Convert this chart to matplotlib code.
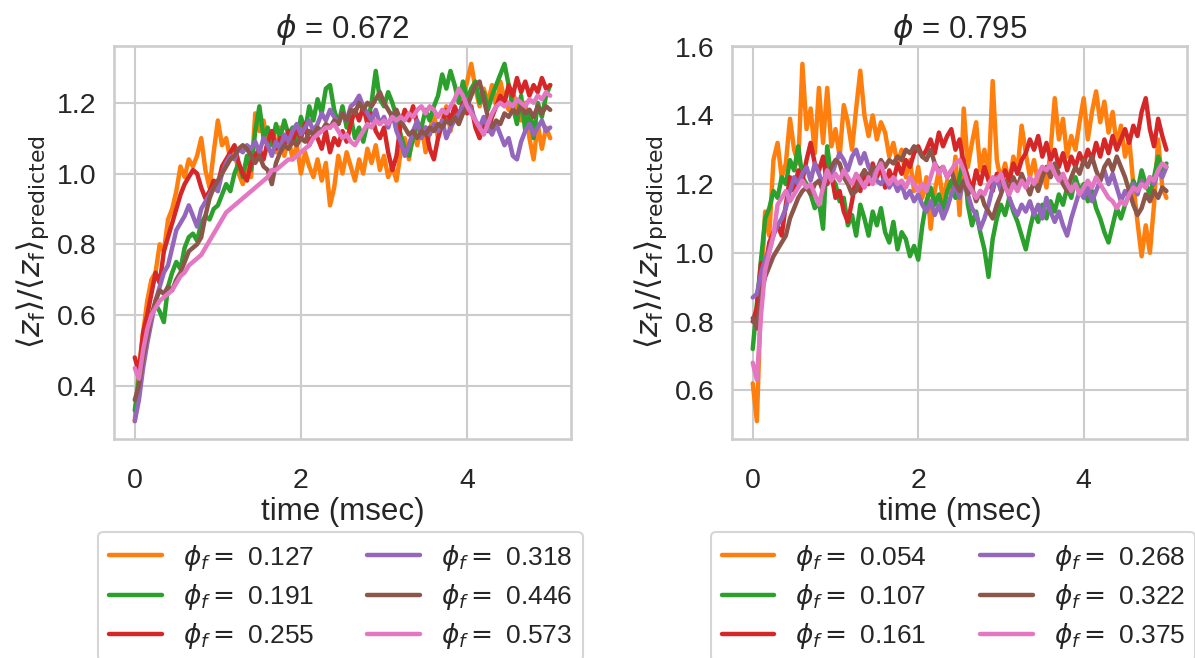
import numpy as np
import matplotlib
matplotlib.use('Agg')
import matplotlib.pyplot as plt
import seaborn as sns

# time axis, msec (sampled every 0.05 msec)
time = np.linspace(0, 5, 101)

# ---- phi = 0.672 ----
phi_left = 0.672
phif_left = [0.127, 0.191, 0.255, 0.318, 0.446, 0.573]

left_127 = [0.30, 0.45, 0.55, 0.64, 0.70, 0.72, 0.80, 0.78, 0.87, 0.90,
            0.95, 1.02, 0.99, 1.04, 1.02, 1.05, 1.10, 1.01, 0.96, 1.06,
            1.15, 1.08, 1.10, 1.04, 1.07, 1.00, 0.97, 1.02, 0.99, 1.17,
            1.12, 1.15, 1.08, 1.12, 1.06, 1.13, 1.05, 1.10, 1.04, 1.08,
            1.00, 1.06, 1.02, 0.99, 1.04, 0.98, 1.03, 0.91, 0.96, 1.05,
            1.00, 1.06, 1.02, 0.98, 1.04, 1.00, 1.07, 1.03, 1.08, 1.01,
            1.05, 0.99, 1.02, 0.98, 1.06, 1.10, 1.04, 1.12, 1.08, 1.14,
            1.06, 1.12, 1.17, 1.10, 1.15, 1.19, 1.12, 1.18, 1.14, 1.21,
            1.26, 1.31, 1.24, 1.19, 1.24, 1.20, 1.25, 1.19, 1.26, 1.21,
            1.18, 1.23, 1.19, 1.15, 1.20, 1.10, 1.04, 1.14, 1.07, 1.13,
            1.10]
left_191 = [0.33, 0.42, 0.50, 0.55, 0.60, 0.63, 0.61, 0.58, 0.68, 0.72,
            0.75, 0.73, 0.79, 0.82, 0.83, 0.81, 0.86, 0.88, 0.87, 0.90,
            0.91, 0.94, 0.97, 0.95, 1.00, 1.03, 0.99, 1.05, 1.01, 1.12,
            1.19, 1.10, 1.13, 1.08, 1.14, 1.10, 1.15, 1.11, 1.13, 1.09,
            1.16, 1.12, 1.19, 1.15, 1.21, 1.17, 1.24, 1.25, 1.18, 1.14,
            1.19, 1.13, 1.16, 1.10, 1.13, 1.09, 1.14, 1.20, 1.29, 1.21,
            1.19, 1.23, 1.20, 1.16, 1.11, 1.07, 1.05, 1.10, 1.14, 1.13,
            1.18, 1.15, 1.19, 1.22, 1.28, 1.24, 1.29, 1.25, 1.20, 1.26,
            1.21, 1.24, 1.26, 1.20, 1.23, 1.18, 1.22, 1.25, 1.28, 1.31,
            1.25, 1.19, 1.14, 1.22, 1.12, 1.18, 1.10, 1.20, 1.16, 1.22,
            1.25]
left_255 = [0.48, 0.44, 0.55, 0.60, 0.66, 0.72, 0.69, 0.78, 0.82, 0.86,
            0.90, 0.94, 0.97, 0.99, 1.01, 1.00, 0.96, 0.93, 0.95, 0.98,
            0.97, 1.02, 1.04, 1.06, 1.08, 1.03, 1.00, 0.98, 1.03, 1.05,
            1.07, 1.04, 1.09, 1.12, 1.07, 1.10, 1.08, 1.12, 1.09, 1.13,
            1.10, 1.14, 1.08, 1.11, 1.10, 1.07, 1.12, 1.06, 1.10, 1.08,
            1.12, 1.09, 1.14, 1.18, 1.15, 1.19, 1.14, 1.17, 1.12, 1.10,
            1.13, 1.06, 1.01, 1.05, 1.14, 1.18, 1.15, 1.19, 1.14, 1.11,
            1.13, 1.07, 1.04, 1.10, 1.14, 1.18, 1.15, 1.19, 1.16, 1.20,
            1.17, 1.19, 1.13, 1.10, 1.14, 1.12, 1.16, 1.19, 1.22, 1.20,
            1.25, 1.22, 1.27, 1.23, 1.26, 1.22, 1.25, 1.23, 1.27, 1.24,
            1.25]
left_318 = [0.30, 0.36, 0.45, 0.52, 0.58, 0.64, 0.68, 0.72, 0.74, 0.79,
            0.84, 0.86, 0.88, 0.91, 0.88, 0.85, 0.90, 0.92, 0.94, 0.96,
            0.95, 1.00, 1.03, 1.05, 1.04, 1.07, 1.06, 1.08, 1.07, 1.09,
            1.06, 1.10, 1.08, 1.05, 1.09, 1.07, 1.11, 1.09, 1.12, 1.14,
            1.11, 1.13, 1.15, 1.12, 1.14, 1.17, 1.15, 1.18, 1.16, 1.14,
            1.17, 1.15, 1.19, 1.20, 1.22, 1.19, 1.17, 1.15, 1.18, 1.14,
            1.16, 1.13, 1.17, 1.12, 1.09, 1.05, 1.08, 1.12, 1.15, 1.10,
            1.13, 1.11, 1.14, 1.12, 1.15, 1.10, 1.13, 1.15, 1.17, 1.19,
            1.21, 1.18, 1.15, 1.13, 1.16, 1.13, 1.11, 1.14, 1.11, 1.08,
            1.10, 1.05, 1.04, 1.09, 1.12, 1.14, 1.11, 1.13, 1.15, 1.12,
            1.13]
left_446 = [0.36, 0.40, 0.48, 0.54, 0.60, 0.64, 0.67, 0.66, 0.68, 0.67,
            0.70, 0.72, 0.75, 0.78, 0.79, 0.80, 0.82, 0.88, 0.93, 0.96,
            0.98, 1.00, 1.02, 1.04, 1.05, 1.07, 1.08, 1.07, 1.05, 1.03,
            1.05, 1.02, 1.01, 0.97, 1.03, 1.06, 1.08, 1.07, 1.09, 1.08,
            1.10, 1.09, 1.12, 1.11, 1.13, 1.12, 1.14, 1.13, 1.15, 1.14,
            1.17, 1.15, 1.18, 1.17, 1.20, 1.18, 1.20, 1.19, 1.21, 1.23,
            1.20, 1.18, 1.16, 1.18, 1.15, 1.13, 1.11, 1.12, 1.10, 1.12,
            1.11, 1.13, 1.12, 1.14, 1.13, 1.15, 1.14, 1.16, 1.14, 1.17,
            1.19, 1.22, 1.25, 1.26, 1.21, 1.16, 1.13, 1.15, 1.14, 1.17,
            1.16, 1.18, 1.17, 1.19, 1.17, 1.18, 1.16, 1.19, 1.17, 1.19,
            1.18]
left_573 = [0.45, 0.42, 0.50, 0.56, 0.60, 0.62, 0.64, 0.65, 0.66, 0.67,
            0.69, 0.71, 0.72, 0.74, 0.75, 0.76, 0.77, 0.79, 0.81, 0.83,
            0.85, 0.87, 0.89, 0.90, 0.91, 0.92, 0.93, 0.94, 0.95, 0.96,
            0.97, 0.98, 0.99, 1.01, 1.01, 1.02, 1.03, 1.04, 1.04, 1.05,
            1.06, 1.07, 1.08, 1.10, 1.11, 1.12, 1.13, 1.13, 1.14, 1.12,
            1.10, 1.11, 1.09, 1.08, 1.10, 1.12, 1.14, 1.13, 1.15, 1.14,
            1.15, 1.14, 1.16, 1.15, 1.16, 1.15, 1.17, 1.16, 1.18, 1.19,
            1.17, 1.19, 1.18, 1.16, 1.18, 1.17, 1.19, 1.21, 1.24, 1.22,
            1.19, 1.17, 1.15, 1.13, 1.11, 1.14, 1.17, 1.19, 1.20, 1.19,
            1.20, 1.19, 1.21, 1.20, 1.19, 1.21, 1.20, 1.22, 1.21, 1.23,
            1.22]

# ---- phi = 0.795 ----
phi_right = 0.795
phif_right = [0.054, 0.107, 0.161, 0.268, 0.322, 0.375]

right_054 = [0.62, 0.51, 0.88, 1.12, 1.05, 1.27, 1.32, 1.22, 1.26, 1.39,
             1.30, 1.26, 1.55, 1.36, 1.42, 1.29, 1.48, 1.32, 1.48, 1.31,
             1.36, 1.28, 1.43, 1.38, 1.30, 1.42, 1.53, 1.40, 1.34, 1.40,
             1.33, 1.38, 1.35, 1.28, 1.32, 1.26, 1.30, 1.22, 1.27, 1.18,
             1.25, 1.16, 1.22, 1.07, 1.18, 1.24, 1.15, 1.21, 1.17, 1.28,
             1.11, 1.42, 1.25, 1.32, 1.38, 1.24, 1.30, 1.22, 1.50, 1.27,
             1.21, 1.26, 1.20, 1.28, 1.24, 1.37, 1.29, 1.22, 1.27, 1.20,
             1.25, 1.19, 1.30, 1.45, 1.33, 1.39, 1.28, 1.34, 1.30, 1.38,
             1.45, 1.33, 1.41, 1.47, 1.38, 1.44, 1.35, 1.41, 1.31, 1.37,
             1.28, 1.33, 1.20, 1.09, 0.99, 1.08, 1.00, 1.14, 1.33, 1.19,
             1.16]
right_107 = [0.72, 0.85, 0.98, 1.10, 1.13, 1.18, 1.16, 1.22, 1.20, 1.27,
             1.24, 1.31, 1.22, 1.20, 1.17, 1.13, 1.15, 1.07, 1.31, 1.22,
             1.20, 1.15, 1.16, 1.08, 1.11, 1.05, 1.14, 1.10, 1.05, 1.12,
             1.08, 1.13, 1.06, 1.03, 1.09, 1.01, 1.06, 1.04, 0.99, 1.02,
             0.98, 1.08, 1.15, 1.19, 1.14, 1.17, 1.12, 1.18, 1.21, 1.16,
             1.22, 1.27, 1.14, 1.08, 1.12, 1.06, 1.01, 0.93, 1.04, 1.10,
             1.14, 1.11, 1.16, 1.12, 1.09, 1.05, 1.01, 1.07, 1.12, 1.09,
             1.14, 1.10, 1.15, 1.12, 1.17, 1.14, 1.19, 1.16, 1.22, 1.18,
             1.20, 1.15, 1.18, 1.13, 1.10, 1.06, 1.03, 1.08, 1.13, 1.10,
             1.14, 1.17, 1.21, 1.18, 1.24, 1.20, 1.17, 1.22, 1.28, 1.24,
             1.26]
right_161 = [0.80, 0.84, 0.97, 0.95, 1.03, 1.06, 1.08, 1.05, 1.14, 1.22,
             1.18, 1.24, 1.21, 1.27, 1.32, 1.26, 1.24, 1.28, 1.20, 1.23,
             1.16, 1.18, 1.12, 1.09, 1.15, 1.22, 1.18, 1.24, 1.20, 1.26,
             1.22, 1.25, 1.19, 1.24, 1.21, 1.26, 1.23, 1.27, 1.25, 1.29,
             1.31, 1.28, 1.30, 1.33, 1.29, 1.35, 1.31, 1.34, 1.36, 1.30,
             1.33, 1.26, 1.22, 1.18, 1.24, 1.20, 1.25, 1.21, 1.18, 1.23,
             1.20, 1.24, 1.21, 1.26, 1.23, 1.27, 1.29, 1.33, 1.30, 1.34,
             1.28, 1.32, 1.27, 1.30, 1.25, 1.29, 1.24, 1.28, 1.25, 1.29,
             1.26, 1.30, 1.27, 1.32, 1.28, 1.33, 1.29, 1.34, 1.30, 1.33,
             1.36, 1.32, 1.37, 1.34, 1.41, 1.45, 1.36, 1.31, 1.39, 1.34,
             1.30]
right_268 = [0.87, 0.88, 0.94, 0.98, 1.01, 1.05, 1.08, 1.10, 1.13, 1.18,
             1.22, 1.20, 1.23, 1.25, 1.21, 1.26, 1.23, 1.20, 1.24, 1.22,
             1.26, 1.29, 1.27, 1.24, 1.28, 1.30, 1.26, 1.29, 1.25, 1.23,
             1.21, 1.20, 1.22, 1.19, 1.21, 1.18, 1.20, 1.16, 1.18, 1.15,
             1.17, 1.14, 1.12, 1.15, 1.11, 1.14, 1.10, 1.13, 1.17, 1.20,
             1.16, 1.21, 1.17, 1.13, 1.11, 1.07, 1.10, 1.14, 1.19, 1.22,
             1.18, 1.21, 1.16, 1.13, 1.11, 1.14, 1.12, 1.15, 1.11, 1.14,
             1.10, 1.16, 1.12, 1.09, 1.12, 1.08, 1.05, 1.10, 1.14, 1.18,
             1.16, 1.19, 1.15, 1.18, 1.21, 1.24, 1.20, 1.23, 1.19, 1.15,
             1.18, 1.16, 1.20, 1.17, 1.21, 1.19, 1.22, 1.20, 1.24, 1.22,
             1.25]
right_322 = [0.81, 0.78, 0.88, 0.93, 0.96, 0.99, 1.01, 1.03, 1.05, 1.10,
             1.13, 1.16, 1.18, 1.19, 1.17, 1.20, 1.21, 1.18, 1.22, 1.25,
             1.27, 1.26, 1.22, 1.20, 1.17, 1.18, 1.22, 1.24, 1.22, 1.25,
             1.24, 1.27, 1.25, 1.27, 1.26, 1.28, 1.27, 1.30, 1.29, 1.31,
             1.30, 1.28, 1.27, 1.30, 1.26, 1.24, 1.25, 1.22, 1.24, 1.20,
             1.18, 1.21, 1.17, 1.19, 1.15, 1.18, 1.14, 1.12, 1.10, 1.14,
             1.17, 1.21, 1.18, 1.22, 1.19, 1.23, 1.20, 1.17, 1.21, 1.18,
             1.22, 1.25, 1.22, 1.26, 1.23, 1.20, 1.18, 1.22, 1.25, 1.23,
             1.27, 1.25, 1.28, 1.24, 1.21, 1.25, 1.27, 1.24, 1.28, 1.25,
             1.22, 1.18, 1.14, 1.11, 1.13, 1.17, 1.15, 1.18, 1.16, 1.19,
             1.18]
right_375 = [0.68, 0.63, 0.82, 0.95, 1.00, 1.05, 1.14, 1.16, 1.18, 1.15,
             1.17, 1.19, 1.21, 1.19, 1.20, 1.17, 1.14, 1.19, 1.24, 1.21,
             1.23, 1.21, 1.24, 1.22, 1.20, 1.23, 1.21, 1.19, 1.22, 1.20,
             1.24, 1.26, 1.22, 1.20, 1.22, 1.20, 1.21, 1.19, 1.22, 1.20,
             1.18, 1.20, 1.18, 1.22, 1.26, 1.23, 1.25, 1.22, 1.24, 1.26,
             1.27, 1.24, 1.20, 1.18, 1.16, 1.18, 1.17, 1.20, 1.22, 1.21,
             1.23, 1.19, 1.17, 1.20, 1.18, 1.21, 1.19, 1.22, 1.20, 1.23,
             1.25, 1.24, 1.26, 1.23, 1.21, 1.23, 1.20, 1.18, 1.20, 1.17,
             1.19, 1.21, 1.19, 1.22, 1.20, 1.18, 1.16, 1.15, 1.13, 1.15,
             1.14, 1.17, 1.19, 1.18, 1.20, 1.19, 1.22, 1.21, 1.24, 1.26,
             1.25]

series_left = [left_127, left_191, left_255, left_318, left_446, left_573]
series_right = [right_054, right_107, right_161, right_268, right_322, right_375]

colors = ['#ff7f0e', '#2ca02c', '#d62728', '#9467bd', '#8c564b', '#e377c2']

sns.set_theme(style='whitegrid', context='talk', font_scale=1.2)
plt.rcParams['font.family'] = ['Liberation Sans', 'DejaVu Sans']
plt.rcParams['xtick.labelsize'] = 20.5
plt.rcParams['ytick.labelsize'] = 20.5
plt.rcParams['axes.labelsize'] = 22.5
plt.rcParams['axes.titlesize'] = 22.5
plt.rcParams['xtick.major.pad'] = 12

fig = plt.figure(figsize=(11.95, 6.58), dpi=100)
ax1 = fig.add_axes([0.0954, 0.3328, 0.3824, 0.5973])
ax2 = fig.add_axes([0.6126, 0.3328, 0.3808, 0.5973])

ylabel = r'$\langle z_\mathrm{f}\rangle / \langle z_\mathrm{f}\rangle_\mathrm{predicted}$'


def draw_panel(ax, phi, phifs, series, legend_x):
    for vals, pf, c in zip(series, phifs, colors):
        ax.plot(time, vals, color=c, lw=3.2, label=r'$\phi_f =$ %.3f' % pf)
    ax.set_xticks([0, 2, 4])
    ax.set_xlabel('time (msec)', labelpad=2)
    ax.set_ylabel(ylabel)
    ax.set_title(r'$\phi$ = %.3f' % phi)
    ax.legend(loc='upper center', bbox_to_anchor=(legend_x, -0.237), ncol=2,
              fontsize=19, borderaxespad=0, labelspacing=0.35,
              columnspacing=2.0)


draw_panel(ax1, phi_left, phif_left, series_left, 0.4956)
draw_panel(ax2, phi_right, phif_right, series_right, 0.486)

fig.savefig('out.png', dpi=100)
